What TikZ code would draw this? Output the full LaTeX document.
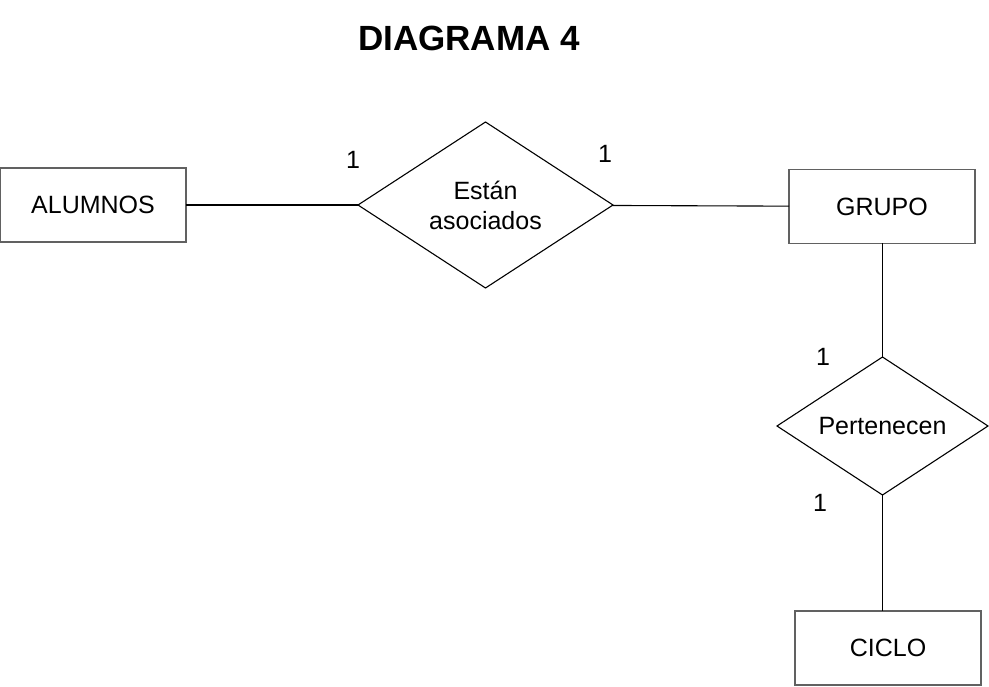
\documentclass[tikz,border=0pt]{standalone}
\usepackage{fontspec}
\setmainfont{Liberation Sans}
\usepackage{xcolor}
\usepackage{tikz}
\usetikzlibrary{shapes.geometric}
\definecolor{framegray}{rgb}{0.38,0.38,0.38}

\begin{document}
\begin{tikzpicture}[x=1pt,y=-1pt]
    \newcounter{i}
    \tikzstyle{entity}=[draw=framegray, line width=1.2pt, minimum width=186pt, minimum height=74pt, inner sep=0pt, outer sep=0pt, font=\fontsize{25}{30}\selectfont]
    \tikzstyle{relation}=[draw=black, line width=1.1pt, diamond, shape aspect=1.53, inner sep=0pt, outer sep=0pt, align=center, font=\fontsize{25}{30}\selectfont]
    \tikzstyle{card}=[font=\fontsize{25}{30}\selectfont]
    \useasboundingbox (0,0) rectangle (989,687);

    \stepcounter{i}\node  (\arabic{i}) at (469,38) {\fontsize{35}{40}\selectfont\bfseries DIAGRAMA 4};
    \stepcounter{i}\node[entity]  (\arabic{i}) at (93,205) {ALUMNOS};
    \stepcounter{i}\node[relation, minimum width=255pt, minimum height=166pt]  (\arabic{i}) at (485.5,205) {Están\\asociados};
    \stepcounter{i}\node[entity]  (\arabic{i}) at (882,206.5) {GRUPO};
    \stepcounter{i}\node[relation, minimum width=211pt, minimum height=138pt]  (\arabic{i}) at (882.5,426) {Pertenecen};
    \stepcounter{i}\node[entity]  (\arabic{i}) at (888,648) {CICLO};

    \stepcounter{i}\node[card]  (\arabic{i}) at (353,160) {1};
    \stepcounter{i}\node[card]  (\arabic{i}) at (605,154) {1};
    \stepcounter{i}\node[card]  (\arabic{i}) at (823,357) {1};
    \stepcounter{i}\node[card]  (\arabic{i}) at (820,503) {1};

    \tikzstyle{link} = [draw=black, line width=1.1pt]

          \draw [link] (2) -- (3);
          \draw [link] (3) -- (4);
          \draw [link] (4.south -| 5.north) -- (5);
          \draw [link] (5) -- (5.south |- 6.north);
  \end{tikzpicture}
\end{document}
